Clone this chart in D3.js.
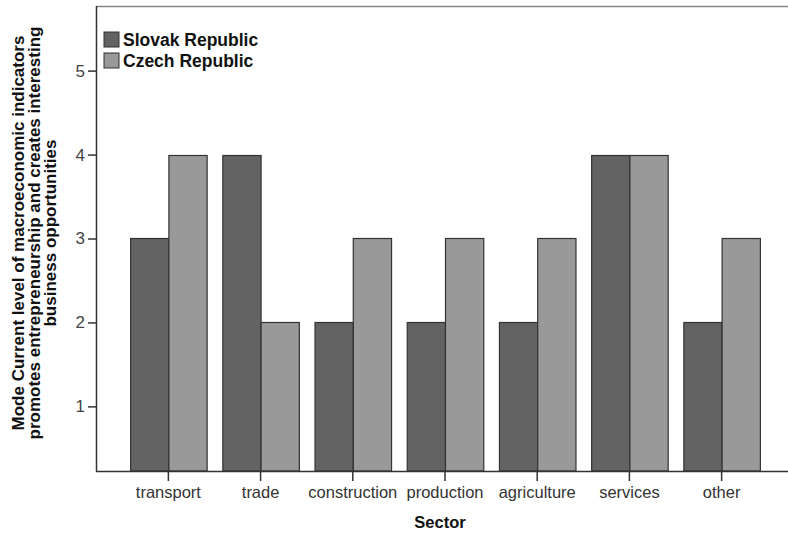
<!DOCTYPE html>
<html>
<head>
<meta charset="utf-8">
<script src="https://cdn.jsdelivr.net/npm/d3@7"></script>
<style>
  body { margin: 0; background: #fff; }
  text { font-family: "Liberation Sans", Arial, sans-serif; }
</style>
</head>
<body>
<div id="chart"></div>
<script>
var sectors = ["transport", "trade", "construction", "production", "agriculture", "services", "other"];
var seriesNames = ["Slovak Republic", "Czech Republic"];
var slovak = [3, 4, 2, 2, 2, 4, 2];
var czech = [4, 2, 3, 3, 3, 4, 3];
var yTicks = [1, 2, 3, 4, 5];
var colors = ["#636363", "#999999"];

var W = 788, H = 533;
var plotLeft = 96, plotTop = 6, plotBottom = 471, plotRight = 794;

var svg = d3.select("#chart").append("svg")
  .attr("width", W)
  .attr("height", H);

var x = d3.scaleBand()
  .domain(sectors)
  .range([plotLeft, plotRight])
  .paddingInner(0.17)
  .paddingOuter(0.37);

var x1 = d3.scaleBand()
  .domain(seriesNames)
  .range([0, x.bandwidth()]);

var y = d3.scaleLinear()
  .domain([0.23, 5.77])
  .range([plotBottom, plotTop]);

var rows = sectors.map(function(s, i) {
  return {sector: s, values: [slovak[i], czech[i]]};
});

// bars
var groups = svg.append("g").selectAll("g")
  .data(rows)
  .enter().append("g")
  .attr("transform", d => "translate(" + x(d.sector) + ",0)");

groups.selectAll("rect")
  .data(d => d.values.map((v, k) => ({name: seriesNames[k], value: v, k: k})))
  .enter().append("rect")
  .attr("x", d => x1(d.name) + 0.5)
  .attr("y", d => Math.round(y(d.value)) + 0.5)
  .attr("width", x1.bandwidth())
  .attr("height", d => plotBottom - Math.round(y(d.value)) - 0.5)
  .attr("fill", d => colors[d.k])
  .attr("stroke", "#333")
  .attr("stroke-width", 1.2);

// frame: top line (gray)
svg.append("line")
  .attr("x1", plotLeft).attr("x2", W)
  .attr("y1", plotTop + 0.5).attr("y2", plotTop + 0.5)
  .attr("stroke", "#888").attr("stroke-width", 1.5);

// x axis
var xAxis = svg.append("g")
  .attr("transform", "translate(0," + plotBottom + ")")
  .call(d3.axisBottom(x).tickSize(10).tickSizeOuter(0).tickPadding(5));
xAxis.select(".domain").attr("stroke", "#333").attr("stroke-width", 1.5)
  .attr("d", "M" + plotLeft + ",0.5H" + W);
xAxis.selectAll(".tick line").attr("stroke", "#333").attr("stroke-width", 1.5);
xAxis.selectAll(".tick text")
  .attr("font-size", "16.5px").attr("fill", "#333");

// y axis
var yAxis = svg.append("g")
  .attr("transform", "translate(" + plotLeft + ",0)")
  .call(d3.axisLeft(y).tickValues(yTicks).tickFormat(d3.format("d")).tickSize(8).tickSizeOuter(0).tickPadding(3));
yAxis.select(".domain").attr("stroke", "#333").attr("stroke-width", 1.5)
  .attr("d", "M0.5," + plotTop + "V" + (plotBottom + 0.5));
yAxis.selectAll(".tick line").attr("stroke", "#333").attr("stroke-width", 1.5);
yAxis.selectAll(".tick text")
  .attr("font-size", "17px").attr("fill", "#444");

// axis titles
svg.append("text")
  .attr("x", 440).attr("y", 528)
  .attr("text-anchor", "middle")
  .attr("font-size", "16.5px").attr("font-weight", "bold")
  .attr("fill", "#111")
  .text("Sector");

var yTitle = ["Mode Current level of macroeconomic indicators",
  "promotes entrepreneurship and creates interesting",
  "business opportunities"];
svg.append("g")
  .attr("transform", "translate(0,233) rotate(-90)")
  .selectAll("text")
  .data(yTitle)
  .enter().append("text")
  .attr("x", 0)
  .attr("y", (d, i) => 24 + i * 16)
  .attr("text-anchor", "middle")
  .attr("font-size", "17px").attr("font-weight", "bold")
  .attr("fill", "#111")
  .text(d => d);

// legend
var legend = svg.append("g")
  .selectAll("g")
  .data(seriesNames)
  .enter().append("g")
  .attr("transform", (d, i) => "translate(104," + (32 + i * 21) + ")");
legend.append("rect")
  .attr("width", 15).attr("height", 15)
  .attr("fill", (d, i) => colors[i])
  .attr("stroke", "#333").attr("stroke-width", 1);
legend.append("text")
  .attr("x", 19).attr("y", 14)
  .attr("font-size", "17.5px").attr("font-weight", "bold")
  .attr("fill", "#111")
  .text(d => d);
</script>
</body>
</html>
